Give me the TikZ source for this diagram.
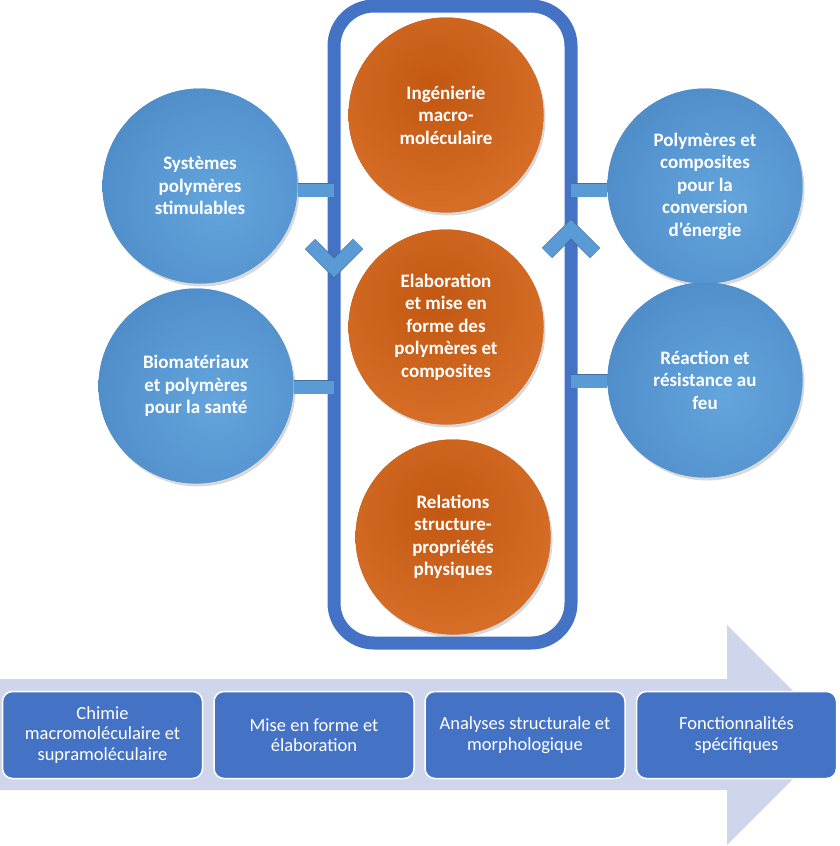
\documentclass[tikz,border=0pt]{standalone}
\usepackage{fontspec}
\setmainfont{Carlito}
\usetikzlibrary{calc,shadows}

\definecolor{axebleu}{HTML}{4472C4}
\definecolor{bleuclair}{HTML}{64A5DD}
\definecolor{bleufonce}{HTML}{4F8DC9}
\definecolor{orangeclair}{HTML}{D76F28}
\definecolor{orangefonce}{HTML}{C25811}
\definecolor{lienfond}{HTML}{5B9BD5}
\definecolor{lienbord}{HTML}{41719C}
\definecolor{flechefond}{HTML}{CFD5EA}

\tikzset{
  rond/.style={circle, minimum size=195pt, inner sep=0pt, align=center, text=white,
    font=\fontsize{19}{22.5}\selectfont\bfseries,
    drop shadow={opacity=0.3, shadow xshift=2pt, shadow yshift=-3pt}},
  rondaxe/.style={rond, fill=orangefonce,
    path picture={\shade[inner color=orangefonce, outer color=orangeclair]
      ($(path picture bounding box.center)+(-10,-25)$) circle (125);}},
  rondtheme/.style={rond, fill=lienfond,
    path picture={\shade[inner color=bleuclair, outer color=bleufonce]
      ($(path picture bounding box.center)+(20,15)$) circle (125);}},
  lien/.style={draw=lienbord, double=lienfond, double distance=13pt, line width=0.7pt, line join=miter},
  etape/.style={rounded corners=10pt, fill=axebleu, draw=white, line width=1.5pt,
    minimum width=200pt, minimum height=87pt, text=white, align=center,
    font=\fontsize{18.5}{20.5}\selectfont}
}

\begin{document}
\begin{tikzpicture}[x=1pt, y=-1pt]
\useasboundingbox (0,0) rectangle (839,846);

\fill[flechefond] (0,679) -- (727,679) -- (727,625) -- (837,735) -- (727,845) -- (727,790) -- (0,790) -- cycle;

\node[draw=axebleu, line width=13pt, rounded corners=40pt, minimum width=237pt, minimum height=637pt,
  outer sep=0pt, inner sep=0pt] (axe) at (452.5,324.5) {};

\node[rondaxe] (inge) at (446,115) {Ingénierie\\macro-\\moléculaire};
\node[rondaxe] (elab) at (446,327) {Elaboration\\et mise en\\forme des\\polymères et\\composites};
\node[rondaxe] (rela) at (453,537) {Relations\\structure-\\propriétés\\physiques};

\node[rondtheme] (stim) at (200,186) {Systèmes\\polymères\\stimulables};
\node[rondtheme] (bio) at (196,386) {Biomatériaux\\et polymères\\pour la santé};
\node[rondtheme] (ener) at (705,186) {Polymères et\\composites\\pour la\\conversion\\d’énergie};
\node[rondtheme] (feu) at (705,380) {Réaction et\\résistance au\\feu};

\draw[lien] ([yshift=-4pt]stim.east) -- ([yshift=-4pt]stim.east -| axe.west);
\draw[lien] ([yshift=-1pt]bio.east) -- ([yshift=-1pt]bio.east -| axe.west);
\draw[lien] ([yshift=-4pt]ener.west) -- ([yshift=-4pt]ener.west -| axe.east);
\draw[lien] ([yshift=-1pt]feu.west) -- ([yshift=-1pt]feu.west -| axe.east);

\draw[lien] (310,244) -- (334,268) -- (358,244);
\draw[lien] (547,253) -- (571,229) -- (595,253);

\node[etape] (chim) at (102.5,735) {Chimie\\macromoléculaire et\\supramoléculaire};
\node[etape] (mise) at (314,735) {Mise en forme et\\élaboration};
\node[etape] (anal) at (525,735) {Analyses structurale et\\morphologique};
\node[etape] (fonc) at (736.5,735) {Fonctionnalités\\spécifiques};
\end{tikzpicture}
\end{document}
